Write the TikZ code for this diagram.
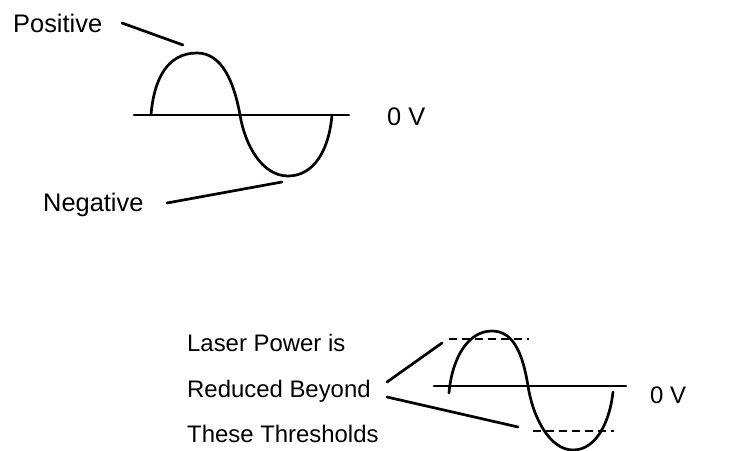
\documentclass[tikz,border=0pt]{standalone}
\usepackage{fontspec}
\setmainfont{Liberation Sans}
\begin{document}
\begin{tikzpicture}[x=1bp,y=-1bp,
  wire/.style={line width=2.7bp,line cap=round},
  thresh/.style={line width=2.7bp,dash pattern=on 8bp off 5bp},
  bigtxt/.style={anchor=base west,inner sep=0pt,font=\fontsize{25.5}{30}\selectfont},
  lowtxt/.style={anchor=base west,inner sep=0pt,font=\fontsize{24}{29}\selectfont}]
\useasboundingbox (0,0) rectangle (751,451);
% ---- top wave
\node[bigtxt] (pos) at (13,33) {Positive};
\node[bigtxt] (neg) at (43,212) {Negative};
\node[bigtxt] (zv1) at (387,126) {0 V};
\coordinate (a1l) at (134,115);
\coordinate (a1r) at (349,115);
\draw[wire] (a1l) -- (a1r);
\coordinate (w1s) at (151,115);
\coordinate (w1p) at (197,53);
\coordinate (w1c) at (240,115);
\coordinate (w1t) at (288,176);
\coordinate (w1e) at (332,115);
\draw[wire] (w1s) .. controls (154,78) and (168,53) .. (w1p)
  .. controls (222,53) and (234,82) .. (w1c)
  .. controls (245,145) and (262,176) .. (w1t)
  .. controls (314,176) and (329,150) .. (w1e);
\coordinate (pl1) at (122,23);
\coordinate (pl2) at (183,45);
\draw[wire] (pl1) -- (pl2);
\coordinate (nl1) at (167,203);
\coordinate (nl2) at (282,182);
\draw[wire] (nl1) -- (nl2);
% ---- bottom wave
\node[lowtxt] (l1) at (187,352) {Laser Power is};
\node[lowtxt] (l2) at (187,397) {Reduced Beyond};
\node[lowtxt] (l3) at (187,442) {These Thresholds};
\node[lowtxt] (zv2) at (650,403) {0 V};
\coordinate (a2l) at (434,386);
\coordinate (a2r) at (626,386);
\draw[wire] (a2l) -- (a2r);
\coordinate (w2s) at (449,393);
\coordinate (w2p) at (492,331);
\coordinate (w2c) at (528,386);
\coordinate (w2t) at (573,450);
\coordinate (w2e) at (613,392);
\draw[wire] (w2s) .. controls (452,358) and (468,331) .. (w2p)
  .. controls (514,331) and (523,355) .. (w2c)
  .. controls (533,418) and (550,450) .. (w2t)
  .. controls (597,450) and (610,420) .. (w2e);
\coordinate (d1a) at (449,339);
\coordinate (d1b) at (529,339);
\coordinate (d2a) at (533,431);
\coordinate (d2b) at (614,431);
\draw[thresh] (d1a) -- (d1b);
\draw[thresh] (d2a) -- (d2b);
\coordinate (ll0) at (387,382);
\coordinate (ll1) at (442,343);
\coordinate (lm0) at (387,397);
\coordinate (lm1) at (518,427);
\draw[wire] (ll0) -- (ll1);
\draw[wire] (lm0) -- (lm1);
\end{tikzpicture}
\end{document}
